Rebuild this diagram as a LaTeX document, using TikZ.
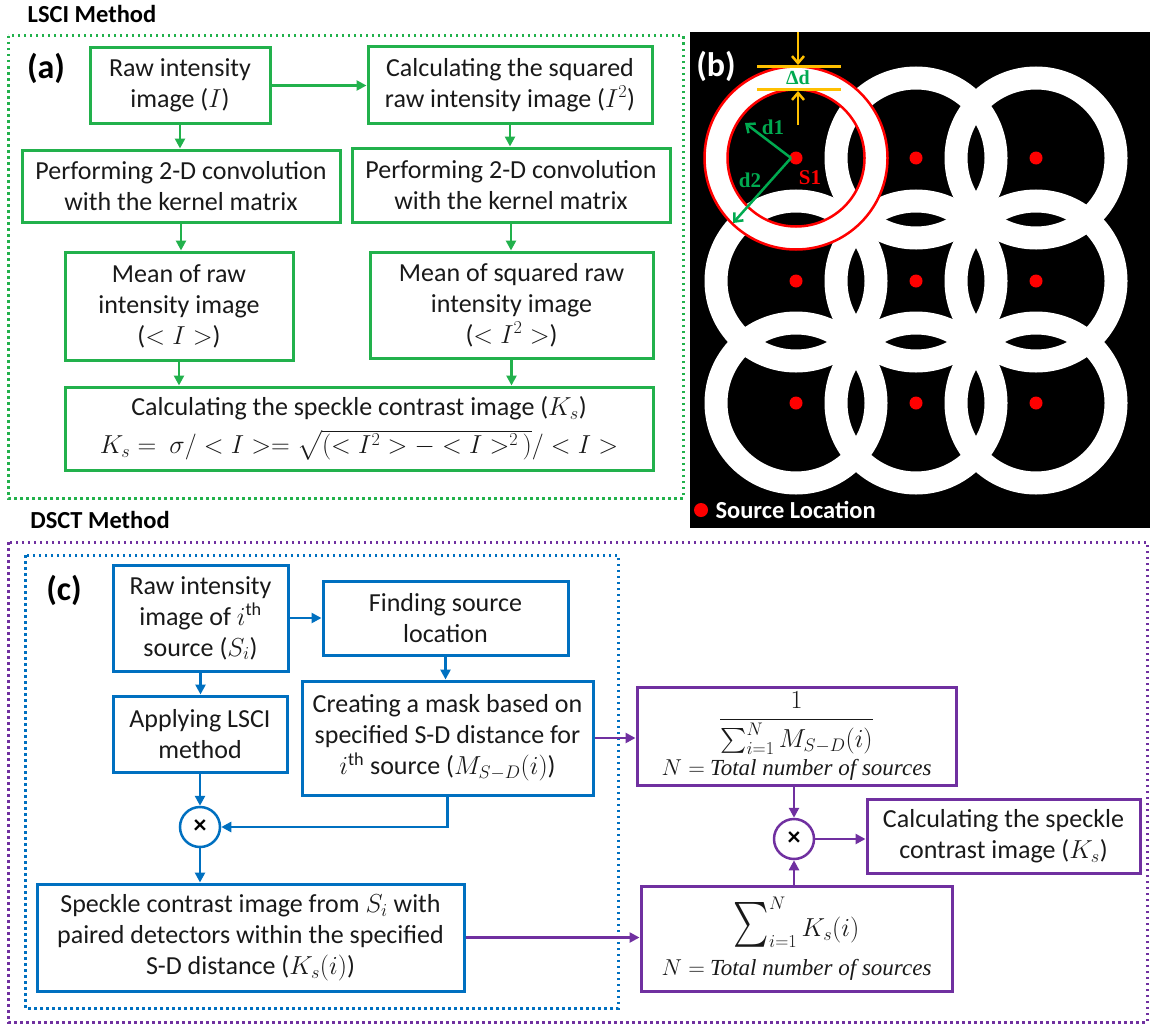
\RequirePackage{fix-cm}
\documentclass[tikz,border=0pt]{standalone}
\usepackage{amsmath}
\usepackage{fontspec}
\setmainfont{Carlito}
\newfontfamily\serifb{Liberation Serif}
\usetikzlibrary{arrows.meta}
\definecolor{lgreen}{RGB}{34,177,76}
\definecolor{dgreen}{RGB}{0,170,80}
\definecolor{lblue}{RGB}{0,112,192}
\definecolor{lpurple}{RGB}{112,48,160}
\definecolor{lorange}{RGB}{255,192,0}
\newcommand{\totn}{{\fontsize{23}{24}\selectfont $N=$\ {\serifb\itshape Total number of sources}}}
\newcommand{\bigsum}{\mathop{\text{\scalebox{1.35}[1.8]{$\textstyle\sum$}}}}
\tikzset{
  boxbase/.style={draw, line width=3pt, align=center, inner sep=2pt, text=black!90,
    font=\fontsize{26}{31}\selectfont},
  gbox/.style={boxbase, draw=lgreen},
  bbox/.style={boxbase, draw=lblue},
  pbox/.style={boxbase, draw=lpurple},
  arr/.style={line width=2.5pt, -{Triangle[length=10pt,width=10pt]}},
  garr/.style={arr, draw=lgreen},
  barr/.style={arr, draw=lblue},
  parr/.style={arr, draw=lpurple},
  barb/.style={line width=2.5pt, -{Straight Barb[length=7pt,width=12pt]}},
  frame/.style={line width=3pt, dash pattern=on 2.5pt off 3.5pt},
  ttl/.style={font=\bfseries\fontsize{24.5}{24.5}\selectfont},
  panel/.style={font=\bfseries\fontsize{34}{34}\selectfont},
  otimes/.style={circle, line width=2.5pt, minimum size=40pt, inner sep=0pt,
    font=\bfseries\fontsize{26}{26}\selectfont, fill=white}
}
\begin{document}
\begin{tikzpicture}[x=1pt,y=-1pt]
\useasboundingbox (0,0) rectangle (1150,1025);

% ---------------- LSCI ----------------
\node[ttl] (tl) at (92,14) {LSCI Method};
\draw[frame, lgreen] (8,36) rectangle (683,498);
\node[panel] (pa) at (46,68) {(a)};

\node[gbox, minimum width=180pt, minimum height=75pt] (a1) at (180,85.5)
  {Raw intensity\\image ($I$)};
\node[gbox, minimum width=284pt, minimum height=76pt] (a2) at (510,85)
  {Calculating the squared\\raw intensity image ($I^2$)};
\node[gbox, minimum width=318pt, minimum height=72pt] (a3) at (181,186)
  {Performing 2-D convolution\\with the kernel matrix};
\node[gbox, minimum width=318pt, minimum height=74pt] (a4) at (511,185)
  {Performing 2-D convolution\\with the kernel matrix};
\node[gbox, minimum width=228pt, minimum height=108pt] (a5) at (179,306)
  {Mean of raw\\intensity image\\($<I>$)};
\node[gbox, minimum width=283pt, minimum height=106pt] (a6) at (511.5,305)
  {Mean of squared raw\\intensity image\\($<I^2>$)};
\node[gbox, minimum width=588pt, minimum height=83pt] (a7) at (359,428.5)
  {Calculating the speckle contrast image ($K_s$)\\[7pt]
   $K_s =\ \sigma/<I>=\sqrt{(<I^2>-<I>^2\,)}/<I>$};

\draw[garr] (a1.east) -- (a1.east -| a2.west);
\draw[garr] (a1.south) -- (a1.south |- a3.north);
\draw[garr] (a2.south) -- (a2.south |- a4.north);
\draw[garr] (a3.south) -- (a3.south |- a5.north);
\draw[garr] (a4.south) -- (a4.south |- a6.north);
\draw[garr] (a5.south) -- (a5.south |- a7.north);
\draw[garr] (a6.south) -- (a6.south |- a7.north);

% ---------------- panel (b) ----------------
\fill[black] (690,32) rectangle (1150,528);
\foreach \x in {796,916,1036}
  \foreach \y in {158,281,403}
    \draw[white, line width=23pt] (\x,\y) circle[radius=80pt];
\foreach \x in {796,916,1036}
  \foreach \y in {158,281,403}
    \fill[red] (\x,\y) circle[radius=6.5pt];
\coordinate (s1) at (796,158);
\draw[red, line width=2.5pt] (s1) circle[radius=91.5pt];
\draw[red, line width=2.5pt] (s1) circle[radius=68.5pt];
\draw[lorange, line width=2.5pt] (757,66.5) -- (841,66.5);
\draw[lorange, line width=2.5pt] (757,89.5) -- (841,89.5);
\coordinate (dtop) at (798,32);
\coordinate (dtopend) at (798,65);
\coordinate (dbot) at (798,125);
\coordinate (dbotend) at (798,91);
\draw[barb, lorange] (dtop) -- (dtopend);
\draw[barb, lorange] (dbot) -- (dbotend);
\node[text=dgreen, font=\serifb\bfseries\fontsize{20}{20}\selectfont] (dd) at (798,78) {Δd};
\coordinate (d1e) at (745,123);
\coordinate (d2e) at (733,223);
\draw[barb, dgreen] (791,158) -- (d1e);
\draw[barb, dgreen] (791,158) -- (d2e);
\node[text=dgreen, font=\serifb\bfseries\fontsize{21}{21}\selectfont] (d1) at (773,127) {d1};
\node[text=dgreen, font=\serifb\bfseries\fontsize{21}{21}\selectfont] (d2) at (750,180) {d2};
\node[text=red, font=\serifb\bfseries\fontsize{21}{21}\selectfont] (s1l) at (810,178) {S1};
\node[panel, white] (pb) at (716,66) {(b)};
\fill[red] (701,510) circle[radius=7pt];
\node[ttl, white, anchor=west] (src) at (712,510) {Source Location};

% ---------------- DSCT ----------------
\node[ttl] (td) at (100,520) {DSCT Method};
\draw[frame, lpurple] (8,542) rectangle (1147,1022);
\draw[frame, lblue] (25,555) rectangle (618,1008);
\node[panel] (pc) at (64,590) {(c)};

\node[bbox, minimum width=175pt, minimum height=106pt] (c1) at (200.5,618)
  {Raw intensity\\image of $i^{\text{th}}$\\source ($S_i$)};
\node[bbox, minimum width=245pt, minimum height=74pt] (c2) at (445.5,618)
  {Finding source\\location};
\node[bbox, minimum width=174pt, minimum height=76pt] (c3) at (200,734)
  {Applying LSCI\\method};
\node[bbox, minimum width=291pt, minimum height=114pt] (c4) at (447.5,738)
  {Creating a mask based on\\specified S-D distance for\\$i^{\text{th}}$ source ($M_{S-D}(i)$)};
\node[otimes, draw=lblue] (ot1) at (200,827) {×};
\node[bbox, minimum width=427pt, minimum height=107pt] (c5) at (250.5,937.5)
  {Speckle contrast image from $S_i$ with\\paired detectors within the specified\\S-D distance ($K_s(i)$)};

\node[pbox, minimum width=319pt, minimum height=98pt] (p1) at (796.5,736)
  {$\dfrac{1}{\sum\nolimits_{i=1}^{N} M_{S-D}(i)}$\\[4pt] \totn};
\node[otimes, draw=lpurple] (ot2) at (794,839) {×};
\node[pbox, minimum width=273pt, minimum height=74pt] (p3) at (1003.5,836)
  {Calculating the speckle\\contrast image ($K_s$)};
\node[pbox, minimum width=311pt, minimum height=105pt] (p2) at (796.5,938.5)
  {$\bigsum\nolimits_{i=1}^{N} K_s(i)$\\[8pt] \totn};

\draw[barr] (c1.east) -- (c1.east -| c2.west);
\draw[barr] (c1.south) -- (c1.south |- c3.north);
\draw[barr] (c2.south) -- (c2.south |- c4.north);
\draw[barr] (c3.south) -- (ot1.north);
\draw[barr] (c4.south) |- (ot1.east);
\draw[barr] (ot1.south) -- (ot1.south |- c5.north);
\draw[parr] (c4.east) -- (c4.east -| p1.west);
\draw[parr] (c5.east) -- (c5.east -| p2.west);
\draw[parr] (ot2.north |- p1.south) -- (ot2.north);
\draw[parr] (ot2.south |- p2.north) -- (ot2.south);
\draw[parr] (ot2.east) -- (ot2.east -| p3.west);
\end{tikzpicture}
\end{document}
